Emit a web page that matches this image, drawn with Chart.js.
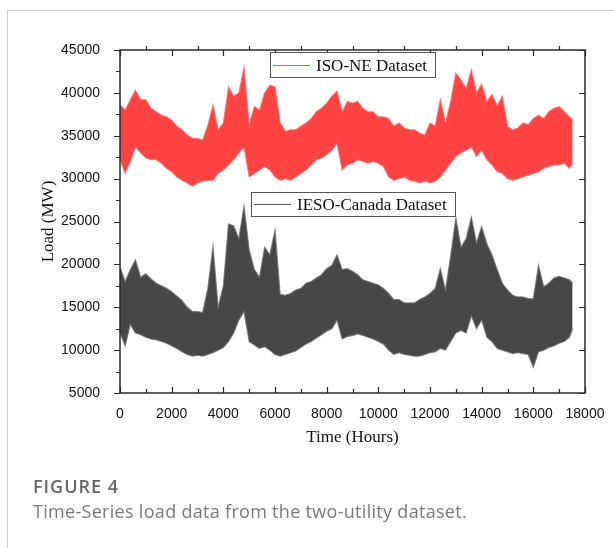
<!DOCTYPE html>
<html>
<head>
<meta charset="utf-8">
<script src="https://cdn.jsdelivr.net/npm/chart.js@4/dist/chart.umd.min.js"></script>
<style>
  html, body { margin: 0; padding: 0; background: #fff; }
  #wrap { position: relative; width: 614px; height: 548px; overflow: hidden; }
  #frame { position: absolute; left: 7px; top: 10px; right: -2px; bottom: -2px;
           border-left: 1px solid #cfcfcf; border-top: 1px solid #cfcfcf; }
  #myChart { position: absolute; left: 0; top: 0; }
  #cap { position: absolute; left: 33px; top: 474px; font-family: "Open Sans", sans-serif; }
  #cap .fig { font-size: 18px; font-weight: 600; line-height: 25px; color: #666; letter-spacing: 1px; }
  #cap .txt { font-size: 18px; font-weight: 400; line-height: 25px; color: #7a7a7a; letter-spacing: 0.3px; }
</style>
</head>
<body>
<div id="wrap">
  <div id="frame"></div>
  <canvas id="myChart" width="614" height="548"></canvas>
  <div id="cap">
    <div class="fig">FIGURE 4</div>
    <div class="txt">Time-Series load data from the two-utility dataset.</div>
  </div>
</div>
<script>
const hours = [];
for (let h = 0; h <= 17400; h += 200) hours.push(h);
hours.push(17520);

const seriesNames = ['ISO-NE Dataset', 'IESO-Canada Dataset'];

const isoHigh = [38600,38000,39200,40300,39200,39200,38200,37800,37400,37200,
  36800,36100,35700,35100,34700,34700,34500,36200,38600,35700,
  36500,40700,39600,40000,43000,36300,38400,38000,40000,40900,
  40700,36500,35500,35700,35700,36100,36500,37000,37800,38200,
  38800,39600,40200,37800,39000,38800,39000,38200,37800,37800,
  37200,37200,37000,36100,36500,35900,35700,35700,35300,35100,
  36500,36100,39200,36500,39000,42300,41500,40500,42700,40000,
  41000,39000,39800,38500,39600,36100,35700,35900,36500,36300,
  37000,37400,37000,37800,38200,38400,37800,37200,36800];
const isoLow = [32200,30600,32000,33700,33000,32400,32200,32200,31800,31200,
  30800,30200,29800,29500,29100,29500,29700,29800,29800,30600,
  31000,31600,32200,33000,33700,30200,30600,31000,31400,31000,
  30200,29800,30000,29800,30200,30600,31000,31600,32200,32400,
  32800,33300,34100,31000,31600,31800,32200,32000,31800,32000,
  31800,31400,30200,29800,30000,30200,29800,29700,29500,29700,
  29500,29700,30200,31000,31800,32600,33000,33300,33700,32600,
  33300,32200,31600,30800,30600,30000,29800,30000,30200,30400,
  30600,30800,31200,31400,31600,31600,31800,31200,31800];
const iesoHigh = [19700,18000,19400,20500,18500,18900,18300,17800,17500,17200,
  16800,16300,15800,15000,14500,14500,14400,17200,22100,15000,
  17500,24700,24500,23000,26800,21700,19400,18500,22000,21100,
  24000,16500,16400,16600,17000,17200,17800,18000,18400,18800,
  19500,19900,21100,19400,19500,19200,18800,18200,18000,17800,
  17600,17200,16600,15900,15900,15500,15500,15500,15900,16200,
  16600,17200,19500,17000,21000,25400,22000,23000,25500,22500,
  24400,22400,21100,19400,17800,17000,16400,16200,16200,16000,
  16000,19900,17400,17800,18400,18600,18400,18200,17800];
const iesoLow = [12000,10500,13000,12000,11800,11500,11300,11200,11000,10800,
  10500,10200,9800,9500,9300,9400,9300,9500,9700,10000,
  10300,11000,12000,13500,14500,11000,10600,10200,10400,10000,
  9500,9300,9500,9700,9900,10300,10700,11000,11400,11800,
  12200,12500,13500,11300,11600,11700,11900,11700,11500,11300,
  11000,10700,10000,9500,9700,9500,9400,9300,9300,9500,
  9700,9800,10200,10000,11000,12000,12300,12000,14000,12500,
  13500,11500,11000,10200,10000,9800,9600,9700,9600,9500,
  8000,9800,10000,10300,10500,10800,11000,11500,12500];

const xTicks = [0, 2000, 4000, 6000, 8000, 10000, 12000, 14000, 16000, 18000];
const yTicks = [5000, 10000, 15000, 20000, 25000, 30000, 35000, 40000, 45000];

const pts = arr => arr.map((v, i) => ({ x: hours[i], y: v }));

const RED = '#ff4242';
const GREY = '#474747';
const tickFont = { family: 'Liberation Sans', size: 14 };
const titleFont = { family: 'Liberation Serif', size: 17 };

// axis box, Origin-style ticks, and the two boxed legends
const axisDeco = {
  id: 'axisDeco',
  afterDraw(chart) {
    const { ctx, chartArea: a, scales: { x, y } } = chart;
    ctx.save();
    ctx.strokeStyle = '#2b2b2b';
    ctx.lineWidth = 1.5;
    ctx.strokeRect(a.left, a.top, a.right - a.left, a.bottom - a.top);
    ctx.lineWidth = 1.2;
    ctx.beginPath();
    for (let v = 0; v <= 18000; v += 1000) {
      const px = Math.round(x.getPixelForValue(v)) + 0.5;
      const major = v % 2000 === 0;
      ctx.moveTo(px, a.bottom); ctx.lineTo(px, a.bottom - (major ? 6 : 4));   // bottom: in
      if (major) { ctx.moveTo(px, a.top); ctx.lineTo(px, a.top + 6); }       // top major: in
      else { ctx.moveTo(px, a.top); ctx.lineTo(px, a.top - 4); }             // top minor: out
    }
    for (let v = 5000; v <= 45000; v += 2500) {
      const py = Math.round(y.getPixelForValue(v)) + 0.5;
      const major = v % 5000 === 0;
      ctx.moveTo(a.left, py); ctx.lineTo(a.left - (major ? 6 : 4), py);      // left: out
      if (major) { ctx.moveTo(a.right, py); ctx.lineTo(a.right - 6, py); }   // right: in
    }
    ctx.stroke();

    const legends = [
      { name: seriesNames[0], color: '#ff5050', left: a.left + 150, top: a.top + 2, w: 165, h: 25 },
      { name: seriesNames[1], color: '#555', left: a.left + 131, top: a.top + 142, w: 204, h: 24 }
    ];
    ctx.font = '17px "Liberation Serif", serif';
    ctx.textBaseline = 'middle';
    legends.forEach(l => {
      ctx.fillStyle = '#fff';
      ctx.fillRect(l.left, l.top, l.w, l.h);
      ctx.strokeStyle = '#555';
      ctx.lineWidth = 1;
      ctx.strokeRect(l.left + 0.5, l.top + 0.5, l.w, l.h);
      const cy = Math.round(l.top + l.h / 2) + 0.5;
      ctx.strokeStyle = l.color;
      ctx.beginPath();
      ctx.moveTo(l.left + 3, cy); ctx.lineTo(l.left + 40, cy);
      ctx.stroke();
      ctx.fillStyle = '#111';
      ctx.fillText(l.name, l.left + 46, cy + 1);
    });
    ctx.restore();
  }
};

const ctx = document.getElementById('myChart');
const myChart = new Chart(ctx, {
  type: 'line',
  data: {
    datasets: [
      { label: seriesNames[0] + ' max', data: pts(isoHigh), borderColor: 'rgba(255,110,110,0.8)', backgroundColor: RED, fill: false },
      { label: seriesNames[0] + ' min', data: pts(isoLow), borderColor: 'rgba(255,110,110,0.8)', backgroundColor: RED, fill: '-1' },
      { label: seriesNames[1] + ' max', data: pts(iesoHigh), borderColor: 'rgba(110,110,110,0.8)', backgroundColor: GREY, fill: false },
      { label: seriesNames[1] + ' min', data: pts(iesoLow), borderColor: 'rgba(110,110,110,0.8)', backgroundColor: GREY, fill: '-1' }
    ]
  },
  options: {
    responsive: false,
    animation: false,
    elements: { point: { radius: 0 }, line: { borderWidth: 1.2, tension: 0 } },
    layout: { padding: { left: 38, top: 50, right: 29, bottom: 100 } },
    plugins: { legend: { display: false }, tooltip: { enabled: false } },
    scales: {
      x: {
        type: 'linear', min: 0, max: 18000,
        afterFit(s) { s.height = 55; },
        afterBuildTicks(s) { s.ticks = xTicks.map(v => ({ value: v })); },
        grid: { display: false }, border: { display: false },
        ticks: { padding: 5, maxRotation: 0, color: '#111', font: tickFont, callback: v => String(v) },
        title: { display: true, text: 'Time (Hours)', color: '#111', padding: { top: 0, bottom: 0 }, font: titleFont }
      },
      y: {
        min: 5000, max: 45000,
        afterFit(s) { s.width = 82; },
        afterBuildTicks(s) { s.ticks = yTicks.map(v => ({ value: v })); },
        grid: { display: false }, border: { display: false },
        ticks: { padding: 12, color: '#111', font: tickFont, callback: v => String(v) },
        title: { display: true, text: 'Load (MW)', color: '#111', padding: { top: 0, bottom: 0 }, font: titleFont }
      }
    }
  },
  plugins: [axisDeco]
});
</script>
</body>
</html>
